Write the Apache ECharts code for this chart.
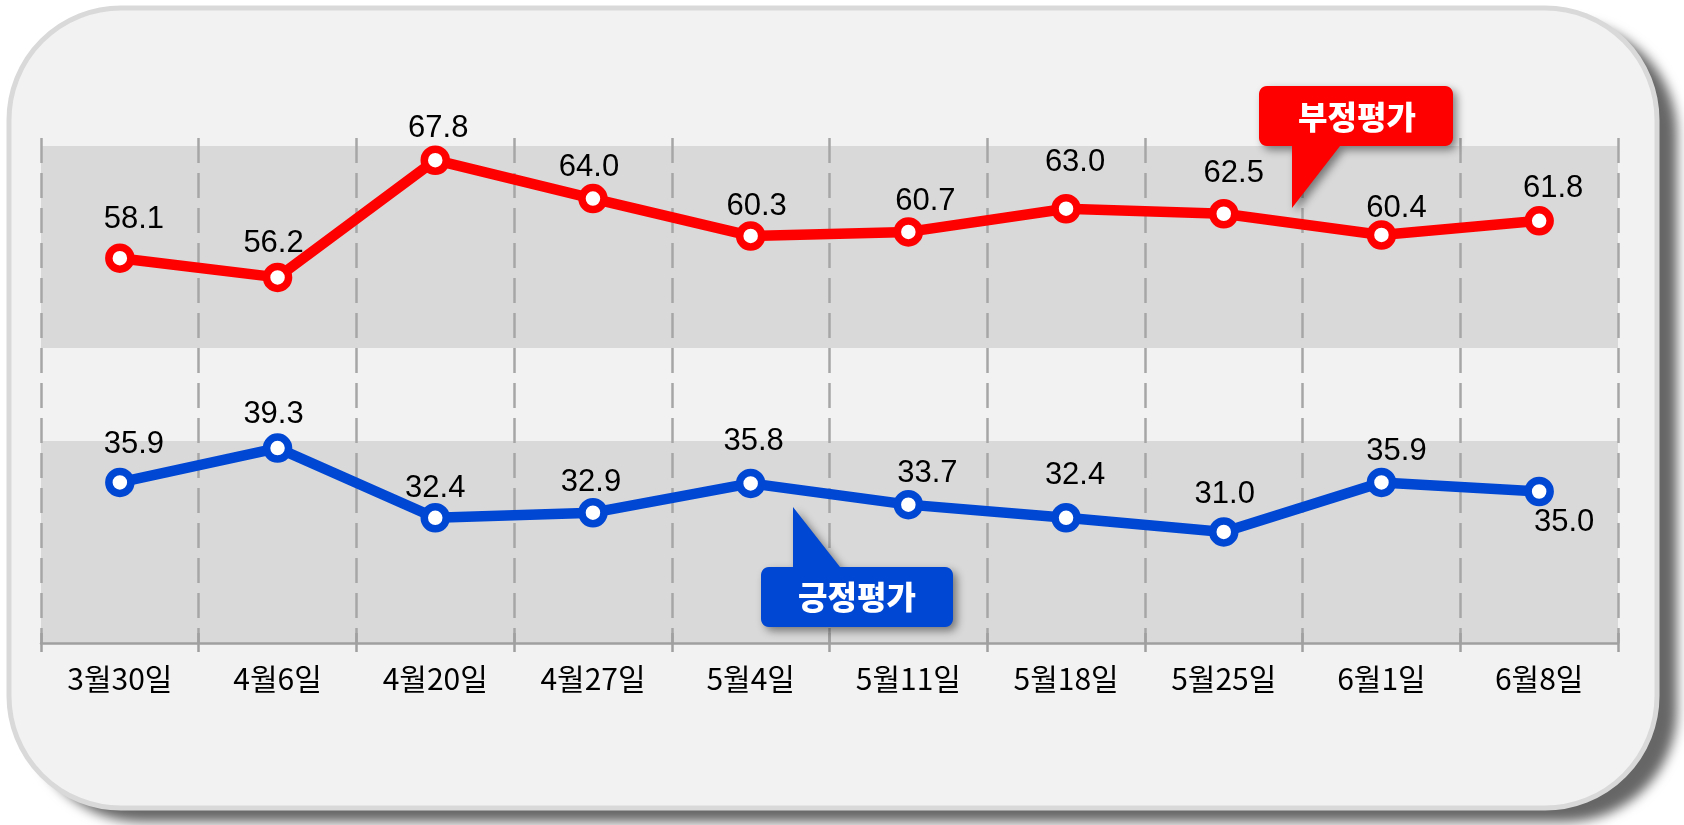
<!DOCTYPE html>
<html><head><meta charset="utf-8">
<script src="https://cdn.jsdelivr.net/npm/echarts@6/dist/echarts.min.js"></script>
<style>html,body{margin:0;padding:0;background:#fff}#c{width:1684px;height:825px}</style>
</head><body><div id="c"></div>
<script>
// ---- data ----
const categories = ['3월30일','4월6일','4월20일','4월27일','5월4일','5월11일','5월18일','5월25일','6월1일','6월8일'];
const negative = [58.1, 56.2, 67.8, 64.0, 60.3, 60.7, 63.0, 62.5, 60.4, 61.8];
const positive = [35.9, 39.3, 32.4, 32.9, 35.8, 33.7, 32.4, 31.0, 35.9, 35.0];
const bandRanges = [[20, 40], [49.2, 69.2]];
const negName = '부정평가';
const posName = '긍정평가';

// ---- label nudges (style, px) ----
const negLabelNudge = [[14,-39],[-4,-34],[3,-32],[-4,-31],[6,-30],[17,-30],[9,-46],[10,-40],[15,-27],[14,-32]];
const posLabelNudge = [[14,-38],[-4,-34],[0,-29],[-2,-30],[3,-42],[19,-31],[9,-42],[1,-37],[15,-31],[25,31]];

const RED = '#ff0000', BLUE = '#0047d4';
const chart = echarts.init(document.getElementById('c'), null, {renderer: 'canvas'});

function mkData(vals, nudges) {
  return vals.map((v, i) => ({value: v, label: {offset: nudges[i]}}));
}
function mkSeries(name, vals, nudges, color, withBands) {
  const s = {
    name, type: 'line', data: mkData(vals, nudges),
    symbol: 'circle', symbolSize: 22,
    lineStyle: {color, width: 10.5},
    itemStyle: {color: '#fff', borderColor: color, borderWidth: 7.5},
    label: {
      show: true, position: 'inside', color: '#000',
      fontFamily: '"Liberation Sans", Arial, sans-serif', fontSize: 31,
      formatter: p => Number(p.value).toFixed(1)
    },
    emphasis: {disabled: true},
    z: 5
  };
  if (withBands) {
    s.markArea = {
      silent: true,
      itemStyle: {color: '#d9d9d9'},
      data: bandRanges.map(r => [{yAxis: r[0]}, {yAxis: r[1]}])
    };
  }
  return s;
}

// callout outline: rounded box + pointer
function arcPts(cx, cy, r, a0, a1) {
  const pts = [];
  for (let k = 0; k <= 6; k++) {
    const a = a0 + (a1 - a0) * k / 6;
    pts.push([cx + r * Math.cos(a), cy + r * Math.sin(a)]);
  }
  return pts;
}
function calloutPts(x1, y1, x2, y2, r, ptr, edge) {
  const P = Math.PI;
  let pts = [];
  pts = pts.concat(arcPts(x1 + r, y1 + r, r, P, 1.5 * P));
  if (edge === 'top') pts = pts.concat(ptr);
  pts = pts.concat(arcPts(x2 - r, y1 + r, r, 1.5 * P, 2 * P));
  pts = pts.concat(arcPts(x2 - r, y2 - r, r, 0, 0.5 * P));
  if (edge === 'bottom') pts = pts.concat(ptr);
  pts = pts.concat(arcPts(x1 + r, y2 - r, r, 0.5 * P, P));
  return pts;
}
const shadowStyle = {shadowBlur: 8, shadowOffsetX: 4, shadowOffsetY: 4, shadowColor: 'rgba(0,0,0,0.45)'};

const option = {
  backgroundColor: '#ffffff',
  animation: false,
  grid: {left: 41, right: 66, top: 138, bottom: 182},
  xAxis: [{
    type: 'category', data: categories, boundaryGap: true,
    axisLine: {lineStyle: {color: '#a0a0a0', width: 2.5}},
    axisTick: {show: true, inside: false, length: 9, lineStyle: {color: '#a0a0a0', width: 2.5}},
    axisLabel: {color: '#000', fontSize: 30, margin: 21, fontFamily: '"Noto Sans CJK KR", sans-serif'},
    splitLine: {show: true, lineStyle: {color: '#a6a6a6', width: 2.5, type: [25, 10]}},
    z: 3
  }, {
    type: 'category', data: categories, boundaryGap: true, position: 'bottom',
    axisLine: {show: false},
    axisTick: {show: true, inside: true, length: 10, lineStyle: {color: '#a0a0a0', width: 2.5}},
    axisLabel: {show: false}, splitLine: {show: false}, z: 3
  }],
  yAxis: {type: 'value', min: 20, max: 70, show: false, splitLine: {show: false}},
  series: [
    mkSeries(negName, negative, negLabelNudge, RED, true),
    mkSeries(posName, positive, posLabelNudge, BLUE, false)
  ],
  graphic: [
    {
      type: 'rect', z: -20, silent: true,
      shape: {x: 9, y: 8, width: 1648, height: 800, r: 112},
      style: {fill: '#f2f2f2', shadowBlur: 12, shadowOffsetX: 20, shadowOffsetY: 14, shadowColor: 'rgba(0,0,0,0.6)'}
    },
    {
      type: 'rect', z: -19, silent: true,
      shape: {x: 9, y: 8, width: 1648, height: 800, r: 112},
      style: {fill: '#f2f2f2', stroke: '#d9d9d9', lineWidth: 5}
    },
    {
      type: 'polygon', z: 100, silent: true,
      shape: {points: calloutPts(1259, 86, 1453, 146, 8, [[1340,146],[1292,208],[1292,146]], 'bottom')},
      style: Object.assign({fill: RED}, shadowStyle)
    },
    {
      type: 'text', z: 101, silent: true,
      style: {text: negName, x: 1357, y: 117, align: 'center', verticalAlign: 'middle',
              fill: '#fff', font: '900 32px "Noto Sans CJK KR", sans-serif'}
    },
    {
      type: 'polygon', z: 100, silent: true,
      shape: {points: calloutPts(761, 567, 953, 627, 8, [[793,567],[793,507],[840,567]], 'top')},
      style: Object.assign({fill: BLUE}, shadowStyle)
    },
    {
      type: 'text', z: 101, silent: true,
      style: {text: posName, x: 857, y: 597, align: 'center', verticalAlign: 'middle',
              fill: '#fff', font: '900 32px "Noto Sans CJK KR", sans-serif'}
    }
  ]
};
chart.setOption(option);
</script>
</body></html>
